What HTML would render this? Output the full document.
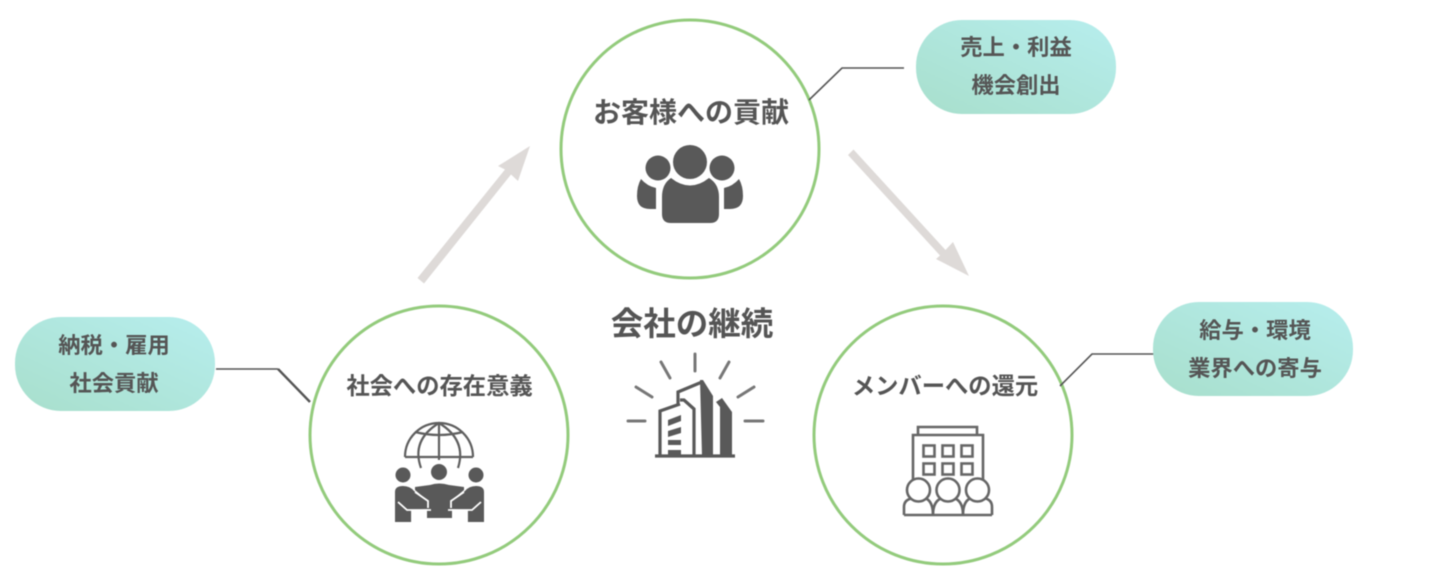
<!DOCTYPE html>
<html lang="ja"><head><meta charset="utf-8"><title>会社の継続</title>
<style>
html,body{margin:0;padding:0;background:#fff}
svg{display:block;filter:blur(.45px)}
text{font-family:"Liberation Sans","Noto Sans CJK JP",sans-serif;font-weight:700;fill:#555;text-anchor:middle}
</style></head><body>
<svg width="1440" height="577" viewBox="0 0 1440 577" xmlns="http://www.w3.org/2000/svg">
<defs><linearGradient id="g" x1="0" y1="1" x2="1" y2="0"><stop offset="0" stop-color="#a8dfcc"/><stop offset="1" stop-color="#b7eeee"/></linearGradient></defs>

<!-- circles -->
<g fill="#fff" stroke="#93cb7c" stroke-width="3">
<circle cx="690" cy="149" r="129"/>
<circle cx="439" cy="435" r="129"/>
<circle cx="943" cy="435" r="129"/>
</g>

<!-- arrows -->
<g fill="#dedad8">
<polygon points="417.500,278 424,283.500 511,174.500 518,181 530,146 498,166 505,169.500"/>
<polygon points="848,155 853.500,149.500 945.500,250 953,242 969,276 936,259 940,255.500"/>
</g>

<!-- connectors -->
<g fill="none" stroke="#555" stroke-width="1.6">
<polyline points="809,100 842,68 904,68"/>
<polyline points="216,369 278,369"/>
<polyline points="278,369 310,402" stroke-width="2.400"/>
<polyline points="1060,386 1092,354 1154,354"/>
</g>

<!-- pills -->
<rect x="916" y="20" width="200" height="94" rx="46" fill="url(#g)"/>
<rect x="15" y="317" width="200" height="94" rx="46" fill="url(#g)"/>
<rect x="1153" y="302" width="200" height="94" rx="46" fill="url(#g)"/>

<text x="1016" y="55" font-size="22.300">売上・利益</text>
<text x="1016" y="93" font-size="22.300">機会創出</text>
<text x="114" y="353" font-size="22.300">納税・雇用</text>
<text x="114" y="391" font-size="22.300">社会貢献</text>
<text x="1255" y="338" font-size="22.300">給与・環境</text>
<text x="1255" y="376" font-size="22.300">業界への寄与</text>

<text x="691" y="122" font-size="28">お客様への貢献</text>
<text x="439.500" y="394" font-size="23.300">社会への存在意義</text>
<text x="945" y="394" font-size="23.300">メンバーへの還元</text>
<text x="692" y="335" font-size="32.500">会社の継続</text>

<!-- people icon -->
<g fill="#595959">
<circle cx="690" cy="162" r="17"/>
<circle cx="658" cy="168" r="12.500"/>
<circle cx="722" cy="168" r="12.500"/>
<path d="M671,178 Q690,193 709,178 Q719,184 719,197 V214 Q719,223 710,223 H671 Q662,223 662,214 V197 Q662,184 671,178Z"/>
<path d="M641,179 Q647,186 656,188 V209 H650 Q637,209 637,196 Q637,186 641,179Z"/>
<path d="M739,179 Q733,186 724,188 V209 H730 Q743,209 743,196 Q743,186 739,179Z"/>
</g>

<!-- globe + meeting icon -->
<g fill="none" stroke="#5f5f5f" stroke-width="2.200">
<path d="M405,457 A34,34 0 0 1 473,457"/>
<path d="M405,457 H473"/>
<path d="M415,432 Q439,438 463,432"/>
<path d="M439,423 V460"/>
<path d="M421,468 Q411,440 439,423 Q467,440 458,468"/>
</g>
<g fill="#595959">
<circle cx="403" cy="475" r="7.500"/>
<circle cx="439" cy="472" r="8"/>
<circle cx="476" cy="475" r="7.500"/>
<path d="M395,492 Q395,486 403,486 Q410,486 414,491 L426,500 L430,503 V509 L412,510 V522 H395Z"/>
<path d="M484,492 Q484,486 476,486 Q469,486 465,491 L453,500 L449,503 V509 L467,510 V522 H484Z"/>
<path d="M415,487 L430,485 Q439,482 449,485 L464,487 L464,490 L452,500 V518 H427 V500 L415,490Z"/>
</g>
<g fill="none" stroke="#fff" stroke-width="1.800">
<path d="M398,502 L407,510 H431 M412,510 V523"/>
<path d="M481,502 L472,510 H448 M467,510 V523"/>
<path d="M415,492 L428,501 V508 M464,492 L451,501 V508"/>
</g>

<!-- building + people icon -->
<g fill="none" stroke="#666" stroke-width="2.600">
<path d="M918,435 V427 H977 V435"/>
<path d="M913,482 V435 H983 V482"/>
<rect x="923.500" y="445.500" width="11" height="11"/>
<rect x="942.500" y="445.500" width="11" height="11"/>
<rect x="961.500" y="445.500" width="11" height="11"/>
<rect x="923.500" y="463.500" width="11" height="11"/>
<rect x="942.500" y="463.500" width="11" height="11"/>
<rect x="961.500" y="463.500" width="11" height="11"/>
<path d="M904,515 H992"/>
<path d="M904,515 V507 Q904,499 914,498 M925,498 Q933,501 933,515"/>
<path d="M933,515 Q933,501 942,498 M954,498 Q963,501 963,515"/>
<path d="M963,515 Q963,501 971,498 M983,498 Q992,499 992,507 V515"/>
<circle cx="918.500" cy="490" r="11.500" fill="#fff"/>
<circle cx="948" cy="490" r="11.500" fill="#fff"/>
<circle cx="977.500" cy="490" r="11.500" fill="#fff"/>
</g>

<!-- company icon -->
<g fill="none" stroke="#777" stroke-width="3" stroke-linecap="round">
<path d="M628,421 H645"/>
<path d="M745,421 H763"/>
<path d="M636,387 L652,397"/>
<path d="M754,387 L738,397"/>
<path d="M661,362 L670,378"/>
<path d="M729,362 L720,378"/>
<path d="M695,354 V371"/>
</g>
<g fill="none" stroke="#595959" stroke-width="3.200">
<path d="M655,456 H735"/>
<path d="M660,456 V411 L680,404 M678,404 V392 L702,382"/>
<path d="M680,400 H684 L694,409 V456"/>
</g>
<g fill="#595959">
<path d="M700,380 H703 L713,396 V456 H702 Z"/>
<path d="M716,402 L722,398 L732,412 V456 H720 V407 Z"/>
<path d="M668,420 L681,415 V421 L668,426Z"/>
<path d="M668,431 L681,427 V433 L668,437Z"/>
<path d="M668,440 H681 V445 H668Z"/>
<path d="M668,450 H681 V456 H668Z"/>
</g>
</svg>
</body></html>
